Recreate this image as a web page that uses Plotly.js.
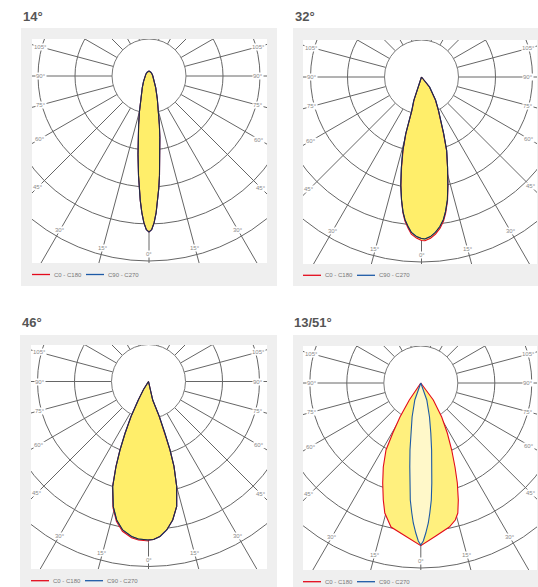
<!DOCTYPE html>
<html><head><meta charset="utf-8">
<script src="https://cdn.plot.ly/plotly-3.0.1.min.js"></script>
<style>html,body{margin:0;padding:0;background:#fff}#chart{width:538px;height:587px}</style>
</head><body><div id="chart"></div>
<script>
// ---------- DATA ----------
const titles = ['14°', '32°', '46°', '13/51°'];
const legendLabels = ['C0 - C180', 'C90 - C270'];
const gammaTicks = [0, 15, 30, 45, 60, 75, 90, 105];
const gridCircles = [1, 2, 3, 4, 5];          // circle index (x step)
const gridStep = 37;                          // intensity units per circle

// Panel 1 (14°) – symmetric, both planes identical
const p1_gamma = [0, 1, 2, 3, 4, 5, 6, 8, 10, 12, 15, 20, 30, 45, 60, 90, 120, 150, 180];
const p1_C0C180 = [156.0, 153.6, 146.8, 136.8, 124.9, 112.4, 100.3, 79.0, 62.4, 49.9, 36.9, 24.3, 13.4, 7.7, 5.4, 3.8, 3.6, 4.1, 5.0];
const p1_C90C270 = [156.0, 153.6, 146.8, 136.8, 124.9, 112.4, 100.3, 79.0, 62.4, 49.9, 36.9, 24.3, 13.4, 7.7, 5.4, 3.8, 3.6, 4.1, 5.0];

// Panel 2 (32°)
const p2_gammaA = [0, 1.2, 3.2, 5.1, 7.0, 8.7, 10.1, 11.9, 13.7, 16.1, 18.9, 21.4, 24.1, 27.0, 31.3, 38.7, 90];
const p2_C0 = [163.5, 163.8, 161.5, 157.8, 152.3, 145.8, 138.0, 126.4, 111.6, 93.9, 77.2, 60.0, 46.8, 36.7, 26.6, 12.6, 0];
const p2_C90 = [161.5, 162.0, 159.8, 156.0, 150.6, 144.3, 136.8, 125.5, 111.2, 94.0, 77.8, 60.8, 47.6, 37.4, 27.2, 13.0, 0];
const p2_gammaB = [0, 1.8, 3.7, 5.1, 6.6, 7.8, 9.2, 10.8, 12.5, 14.2, 15.5, 15.8, 16.1, 18.1, 19.3, 90];
const p2_C180 = [163.3, 161.2, 157.4, 151.6, 144.8, 137.0, 125.0, 110.0, 92.0, 74.8, 57.5, 44.0, 33.6, 23.6, 10.2, 0];
const p2_C270 = [161.5, 159.6, 155.8, 150.2, 143.6, 136.2, 124.8, 110.6, 93.3, 76.6, 59.5, 46.0, 35.5, 25.2, 11.2, 0];

// Panel 3 (46°)
const p3_gammaA = [0, 1.81, 4.24, 6.99, 9.91, 12.71, 15.03, 16.7, 17.43, 17.6, 17.15, 12.79, 90];
const p3_C0 = [158.5, 158.1, 155.4, 149.6, 140.6, 128.1, 108.7, 88.7, 71.8, 54.6, 36.6, 19.0, 0];
const p3_C90 = [158.5, 158.1, 155.4, 149.6, 140.6, 128.1, 108.7, 88.7, 71.8, 54.6, 36.6, 19.0, 0];
const p3_gammaB = [0, 0.65, 3.63, 6.19, 9.86, 12.93, 15.73, 18.83, 20.92, 22.59, 24.32, 26.57, 28.87, 32.0, 90];
const p3_C180 = [159.5, 159.5, 158.8, 157.2, 152.0, 143.4, 131.0, 111.6, 91.4, 74.4, 57.1, 39.1, 21.1, 9.4, 0];
const p3_C270 = [158.5, 158.5, 157.8, 155.9, 150.7, 142.1, 129.9, 110.9, 91.0, 74.2, 57.1, 39.1, 21.1, 9.4, 0];

// Panel 4 (13/51°)
const p4_gammaC0 = [0, 5.6, 11.2, 14.13, 15.89, 17.77, 20.06, 22.15, 24.76, 27.92, 31.58, 36.33, 90];
const p4_C0 = [162.7, 153.7, 146.8, 141.3, 135.2, 122.9, 106.5, 90.7, 73.8, 56.6, 39.9, 21.1, 0];
const p4_gammaC180 = [0, 5.78, 11.69, 13.54, 15.48, 17.77, 20.86, 24.06, 27.44, 29.25, 31.46, 34.08, 90];
const p4_C180 = [162.7, 153.8, 147.1, 140.9, 134.9, 122.9, 107.0, 92.0, 75.5, 57.3, 39.9, 20.5, 0];
const p4_gammaC90 = [0, 0.91, 1.91, 3.07, 3.96, 5.13, 6.28, 7.46, 9.16, 11.31, 14.35, 19.44, 20.56, 90];
const p4_C90 = [162.0, 158.0, 150.1, 140.2, 130.3, 117.5, 100.6, 84.7, 67.9, 51.0, 35.1, 18.0, 8.5, 0];
const p4_C270 = [162.0, 158.0, 150.1, 140.2, 130.3, 117.5, 100.6, 84.7, 67.9, 51.0, 35.1, 18.0, 8.5, 0];

// ---------- STRUCTURE (built from the arrays) ----------
const curves = [
  { red: [p1_gamma, p1_C0C180, p1_gamma, p1_C0C180], blue: [p1_gamma, p1_C90C270, p1_gamma, p1_C90C270] },
  { red: [p2_gammaA, p2_C0, p2_gammaB, p2_C180], blue: [p2_gammaA, p2_C90, p2_gammaB, p2_C270] },
  { red: [p3_gammaA, p3_C0, p3_gammaB, p3_C180], blue: [p3_gammaA, p3_C90, p3_gammaB, p3_C270] },
  { red: [p4_gammaC0, p4_C0, p4_gammaC180, p4_C180], blue: [p4_gammaC90, p4_C90, p4_gammaC90, p4_C270] }
];

// ---------- LAYOUT / STYLE ----------
const W = 538, H = 587;
const RED = '#e30a1c', BLUE = '#1d5aa6';
const GRID = '#666666', LABEL = '#8a8a8a', GREY = '#efefef';
const panels = [
  { box: [21, 28, 277, 286], plot: [32, 39, 267, 263], c: [149, 76], title: [21, 16], leg: [32, 274.5], fillR: '#FFEE6A', fillB: '#FFEE6A', dark: true },
  { box: [293, 28, 545, 286], plot: [303, 40, 537, 264], c: [421.5, 77], title: [293, 16], leg: [303, 275.3], fillR: '#FFEE6A', fillB: '#FFEE6A', dark: true },
  { box: [20, 335, 277, 600], plot: [31, 345, 267, 569], c: [148.5, 381.5], title: [20, 322], leg: [31, 580.7], fillR: '#FFEE6A', fillB: '#FFEE6A', dark: true },
  { box: [293, 335, 545, 600], plot: [303, 346, 537, 570], c: [420.8, 383], title: [292, 322], leg: [303, 581.7], fillR: '#FFF07E', fillB: '#FFF8C9', dark: false }
];
const fx = x => x / W, fy = y => 1 - y / H;
const rad = d => d * Math.PI / 180;

function outline(spec) {
  const [gR, rR, gL, rL] = spec;
  const xs = [], ys = [];
  for (let i = gL.length - 1; i >= 0; i--) { xs.push(-rL[i] * Math.sin(rad(gL[i]))); ys.push(-rL[i] * Math.cos(rad(gL[i]))); }
  for (let i = 0; i < gR.length; i++) { xs.push(rR[i] * Math.sin(rad(gR[i]))); ys.push(-rR[i] * Math.cos(rad(gR[i]))); }
  xs.push(xs[0]); ys.push(ys[0]);
  return { x: xs, y: ys };
}

const traces = [], shapes = [], annotations = [];
const layout = {
  width: W, height: H, margin: { l: 0, r: 0, t: 0, b: 0 }, showlegend: false,
  paper_bgcolor: '#ffffff', plot_bgcolor: '#ffffff', hovermode: false
};

panels.forEach((p, k) => {
  const n = k + 1, xa = 'x' + (n === 1 ? '' : n), ya = 'y' + (n === 1 ? '' : n);
  const [L, T, R, B] = p.plot, [cx, cy] = p.c;
  const xr = [L - cx, R - cx], yr = [cy - B, cy - T];
  layout['xaxis' + (n === 1 ? '' : n)] = { domain: [fx(L), fx(R)], range: xr, visible: false, fixedrange: true, anchor: ya };
  layout['yaxis' + (n === 1 ? '' : n)] = { domain: [fy(B), fy(T)], range: yr, visible: false, fixedrange: true, anchor: xa };

  // grey frame and white plot area
  shapes.push({ type: 'rect', xref: 'paper', yref: 'paper', x0: fx(p.box[0]), x1: fx(p.box[2]), y0: fy(p.box[3]), y1: fy(p.box[1]), fillcolor: GREY, line: { width: 0 }, layer: 'below' });
  shapes.push({ type: 'rect', xref: 'paper', yref: 'paper', x0: fx(L), x1: fx(R), y0: fy(B), y1: fy(T), fillcolor: '#ffffff', line: { width: 0 }, layer: 'below' });

  // radial lines
  for (let a = 0; a < 360; a += 15) {
    const s = Math.sin(rad(a)), c = -Math.cos(rad(a));
    shapes.push({ type: 'line', xref: xa, yref: ya, x0: gridStep * s, y0: gridStep * c, x1: 400 * s, y1: 400 * c, line: { color: GRID, width: 1 }, layer: 'between' });
  }
  // circles
  gridCircles.forEach(i => {
    const r = i * gridStep;
    shapes.push({ type: 'circle', xref: xa, yref: ya, x0: -r, x1: r, y0: -r, y1: r, line: { color: i === 1 ? '#7a7a7a' : GRID, width: 1 }, fillcolor: i === 1 ? '#ffffff' : 'rgba(0,0,0,0)', layer: 'between' });
  });

  // gamma labels
  gammaTicks.forEach(a => {
    const sides = a === 0 ? [1] : [-1, 1];
    sides.forEach(sd => {
      const dx = sd * Math.sin(rad(a)), dy = -Math.cos(rad(a));
      const ts = [];
      if (dx > 1e-9) ts.push(xr[1] / dx); if (dx < -1e-9) ts.push(xr[0] / dx);
      if (dy > 1e-9) ts.push(yr[1] / dy); if (dy < -1e-9) ts.push(yr[0] / dy);
      const d = Math.min(178, Math.min(...ts) - 9);
      annotations.push({ xref: xa, yref: ya, x: d * dx, y: d * dy, text: a + '°', showarrow: false, font: { family: 'Liberation Sans, Arial, sans-serif', size: 6, color: LABEL }, bgcolor: '#ffffff', borderpad: 0, xanchor: 'center', yanchor: 'middle' });
    });
  });

  // curves
  const cr = curves[k];
  const oR = outline(cr.red), oB = outline(cr.blue);
  const base = { type: 'scatter', mode: 'lines', xaxis: xa, yaxis: ya, hoverinfo: 'skip', showlegend: false };
  traces.push(Object.assign({}, base, { x: oR.x, y: oR.y, fill: 'toself', fillcolor: p.fillR, line: { width: 0, color: p.fillR } }));
  traces.push(Object.assign({}, base, { x: oB.x, y: oB.y, fill: 'toself', fillcolor: p.fillB, line: { width: 0, color: p.fillB } }));
  traces.push(Object.assign({}, base, { x: oR.x, y: oR.y, line: { width: 1.1, color: RED } }));
  traces.push(Object.assign({}, base, { x: oB.x, y: oB.y, line: { width: 1.1, color: BLUE } }));
  if (p.dark) traces.push(Object.assign({}, base, { x: oB.x, y: oB.y, line: { width: 0.8, color: '#221a22' } }));

  // title
  annotations.push({ xref: 'paper', yref: 'paper', x: fx(p.title[0]), y: fy(p.title[1]), text: '<b>' + titles[k] + '</b>', showarrow: false, xanchor: 'left', yanchor: 'middle', font: { family: 'Liberation Sans, Arial, sans-serif', size: 13, color: '#555555' } });

  // legend
  const [lx, ly] = p.leg;
  shapes.push({ type: 'line', xref: 'paper', yref: 'paper', x0: fx(lx), x1: fx(lx + 18), y0: fy(ly), y1: fy(ly), line: { color: RED, width: 1.3 } });
  shapes.push({ type: 'line', xref: 'paper', yref: 'paper', x0: fx(lx + 54), x1: fx(lx + 72), y0: fy(ly), y1: fy(ly), line: { color: BLUE, width: 1.3 } });
  annotations.push({ xref: 'paper', yref: 'paper', x: fx(lx + 20), y: fy(ly), text: legendLabels[0], showarrow: false, xanchor: 'left', yanchor: 'middle', font: { family: 'Liberation Sans, Arial, sans-serif', size: 6, color: '#777777' } });
  annotations.push({ xref: 'paper', yref: 'paper', x: fx(lx + 74), y: fy(ly), text: legendLabels[1], showarrow: false, xanchor: 'left', yanchor: 'middle', font: { family: 'Liberation Sans, Arial, sans-serif', size: 6, color: '#777777' } });
});

layout.shapes = shapes;
layout.annotations = annotations;
Plotly.newPlot('chart', traces, layout, { staticPlot: true, displayModeBar: false });
</script>
</body></html>
